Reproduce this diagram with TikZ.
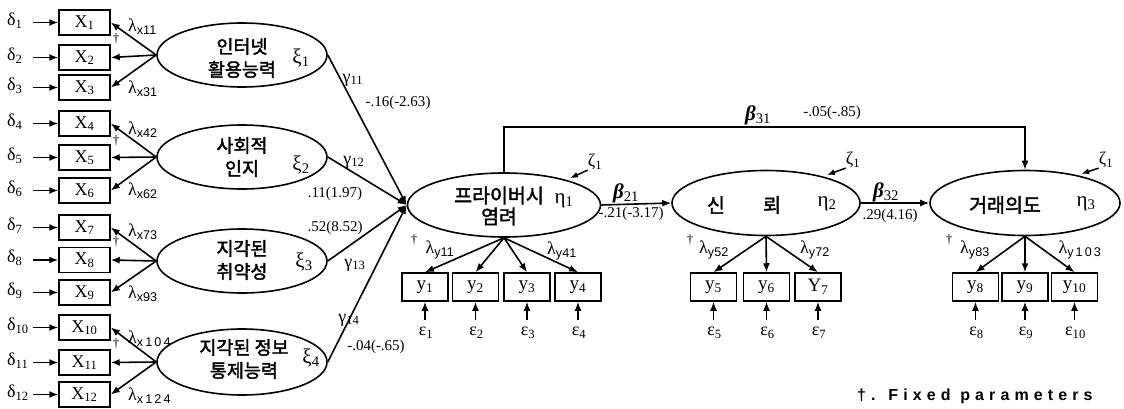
\documentclass[tikz,border=0pt]{standalone}
\usepackage{fontspec}
\setmainfont{Liberation Serif}
\setsansfont{Liberation Sans}
\newfontfamily\kr[FakeBold=2]{Noto Sans CJK KR}
\usetikzlibrary{shapes.geometric,arrows.meta}
\newcommand\sbs[1]{\textsubscript{#1}}
\newcommand\ssb[1]{\textsubscript{\sffamily #1}}
\begin{document}
\begin{tikzpicture}[x=1pt,y=-1pt,
  xbox/.style={draw,line width=1.5pt,minimum width=51pt,minimum height=25pt,inner sep=0pt,font=\fontsize{18}{18}\selectfont},
  ybox/.style={draw,line width=1.5pt,minimum width=46pt,minimum height=28pt,inner sep=0pt,font=\fontsize{19}{19}\selectfont},
  lat/.style={draw,ellipse,line width=1.6pt,inner sep=0pt},
  arr/.style={-{Latex[length=9pt,width=7pt]},line width=1.6pt},
  zarr/.style={-{Latex[length=8pt,width=6pt]},line width=1.5pt},
  glab/.style={inner sep=0pt,font=\fontsize{18}{18}\selectfont},
  big/.style={inner sep=0pt,font=\fontsize{21}{21}\selectfont},
  num/.style={inner sep=0pt,font=\fontsize{15}{15}\selectfont},
  dag/.style={inner sep=0pt,font=\fontsize{13}{13}\selectfont},
  kor/.style={align=center,inner sep=0pt,font=\kr\fontsize{18.5}{23}\selectfont},
  kor2/.style={align=center,inner sep=0pt,font=\kr\fontsize{19.5}{21}\selectfont}]
\useasboundingbox (0,0) rectangle (1124,409);

% ---------- X indicators ----------
\foreach \i/\y in {1/22.5,2/57.5,3/87.5,4/123.5,5/157.5,6/190.5,7/227.5,8/260,9/292.5,10/327.5,11/362.5,12/394.5}{
  \node[xbox] (x\i) at (84.5,\y) {X\sbs{\i}};
  \node[glab,anchor=west] (d\i) at (7,\y-2) {δ\sbs{\i}};
  \coordinate (ds\i) at (33,\y);
  \draw[arr] (ds\i) -- (x\i.west);
}

% ---------- exogenous latents ----------
\node[lat,minimum width=170pt,minimum height=64pt] (e1) at (242,55) {};
\node[lat,minimum width=170pt,minimum height=64pt] (e2) at (242,157) {};
\node[lat,minimum width=170pt,minimum height=64pt] (e3) at (242,261) {};
\node[lat,minimum width=170pt,minimum height=66pt] (e4) at (242,362) {};
\node[kor] (k1) at (242,58) {인터넷\\활용능력};
\node[kor] (k2) at (242,157) {사회적\\인지};
\node[kor] (k3) at (242,260) {지각된\\취약성};
\node[kor] (k4) at (244,359) {지각된 정보\\통제능력};
\node[big] (xi1) at (301,58) {ξ\sbs{1}};
\node[big] (xi2) at (301,165) {ξ\sbs{2}};
\node[big] (xi3) at (304,262) {ξ\sbs{3}};
\node[big] (xi4) at (311,358) {ξ\sbs{4}};

% loadings x
\draw[arr] (e1.west) -- (x1.east);
\draw[arr] (e1.west) -- (x2.east);
\draw[arr] (e1.west) -- (x3.east);
\draw[arr] (e2.west) -- (x4.east);
\draw[arr] (e2.west) -- (x5.east);
\draw[arr] (e2.west) -- (x6.east);
\draw[arr] (e3.west) -- (x7.east);
\draw[arr] (e3.west) -- (x8.east);
\draw[arr] (e3.west) -- (x9.east);
\draw[arr] (e4.west) -- (x10.east);
\draw[arr] (e4.west) -- (x11.east);
\draw[arr] (e4.west) -- (x12.east);

\node[glab,anchor=west] (lx11) at (128,27) {λ\ssb{x11}};
\node[glab,anchor=west] (lx31) at (128,89) {λ\ssb{x31}};
\node[glab,anchor=west] (lx42) at (128,130) {λ\ssb{x42}};
\node[glab,anchor=west] (lx62) at (128,191) {λ\ssb{x62}};
\node[glab,anchor=west] (lx73) at (128,232) {λ\ssb{x73}};
\node[glab,anchor=west] (lx93) at (128,294) {λ\ssb{x93}};
\node[glab,anchor=west] (lx104) at (128,339) {λ\ssb{x\,1\,0\,4}};
\node[glab,anchor=west] (lx124) at (128,396) {λ\ssb{x\,1\,2\,4}};
\node[dag] (dg1) at (116,39) {†};
\node[dag] (dg2) at (116,141) {†};
\node[dag] (dg3) at (116,242) {†};
\node[dag] (dg4) at (116,344) {†};

% ---------- endogenous latents ----------
\node[lat,minimum width=193pt,minimum height=64pt] (eta1) at (504,205) {};
\node[lat,minimum width=188pt,minimum height=65pt] (eta2) at (766,203) {};
\node[lat,minimum width=190pt,minimum height=65pt] (eta3) at (1025,203) {};
\node[kor2] (k5) at (499,206) {프라이버시\\염려};
\node[kor2] (k6a) at (716,205) {신};
\node[kor2] (k6b) at (772,205) {뢰};
\node[kor2] (k7) at (1005,205) {거래의도};
\node[big] (h1) at (564,201) {η\sbs{1}};
\node[big] (h2) at (827,204) {η\sbs{2}};
\node[big] (h3) at (1086,204) {η\sbs{3}};

% gamma paths
\draw[arr] (e1.east) -- (eta1.west);
\draw[arr] (e2.east) -- (eta1.west);
\draw[arr] (e3.east) -- (eta1.west);
\draw[arr] (e4.east) -- (eta1.west);
\node[glab] (g11) at (353,80) {γ\sbs{11}};
\node[num] (n11) at (398,103) {-.16(-2.63)};
\node[glab] (g12) at (354,162) {γ\sbs{12}};
\node[num] (n12) at (335,194) {.11(1.97)};
\node[num] (n13) at (335,228) {.52(8.52)};
\node[glab] (g13) at (355,265) {γ\sbs{13}};
\node[glab] (g14) at (349,320) {γ\sbs{14}};
\node[num] (n14) at (376,347) {-.04(-.65)};

% beta paths
\draw[arr] (eta1.east) -- (eta2.west);
\draw[arr] (eta2.east) -- (eta3.west);
\coordinate (top) at (0,127);
\draw[arr] (eta1.north) -- (eta1.north |- top) -| (eta3.north);
\node[big] (b21) at (626,193) {\textbf{\textit{β}}\sbs{21}};
\node[num] (n21) at (631,214) {-.21(-3.17)};
\node[big] (b32) at (886,192) {\textbf{\textit{β}}\sbs{32}};
\node[num] (n32) at (890,216) {.29(4.16)};
\node[big] (b31) at (758,115) {\textbf{\textit{β}}\sbs{31}};
\node[num] (n31) at (832,113) {-.05(-.85)};

% zeta
\node[glab] (z1) at (595,162) {ζ\sbs{1}};
\node[glab] (z2) at (853,160) {ζ\sbs{1}};
\node[glab] (z3) at (1106,160) {ζ\sbs{1}};
\draw[zarr,shorten >=4pt] (z1.south west) -- (eta1.22);
\draw[zarr,shorten >=4pt] (z2.south west) -- (eta2.25);
\draw[zarr,shorten >=4pt] (z3.south west) -- (eta3.28);

% ---------- Y indicators ----------
\foreach \i/\xx/\lab in {1/425/y\sbs{1},2/475.5/y\sbs{2},3/527/y\sbs{3},4/578/y\sbs{4},
  5/713.5/y\sbs{5},6/766.5/y\sbs{6},7/818/Y\sbs{7},
  8/975.5/y\sbs{8},9/1025/y\sbs{9},10/1074.5/y\sbs{10}}{
  \node[ybox] (y\i) at (\xx,287) {\lab};
  \coordinate (es\i) at (\xx,320);
  \node[glab] (ep\i) at (\xx+1,333) {ε\sbs{\i}};
  \draw[arr] (es\i) -- (y\i.south);
}
\foreach \i in {1,2,3,4}{\draw[arr] (eta1.south) -- (y\i.north);}
\foreach \i in {5,6,7}{\draw[arr] (eta2.south) -- (y\i.north);}
\foreach \i in {8,9,10}{\draw[arr] (eta3.south) -- (y\i.north);}

\node[glab] (ly11) at (440,250) {λ\ssb{y11}};
\node[glab] (ly41) at (562,251) {λ\ssb{y41}};
\node[glab] (ly52) at (714,250) {λ\ssb{y52}};
\node[glab] (ly72) at (815,250) {λ\ssb{y72}};
\node[glab] (ly83) at (975,250) {λ\ssb{y83}};
\node[glab] (ly103) at (1080,250) {λ\ssb{y\,1\,0\,3}};
\node[dag] (dg5) at (414,240) {†};
\node[dag] (dg6) at (690,240) {†};
\node[dag] (dg7) at (949,240) {†};

\node[inner sep=0pt,anchor=west,font=\sffamily\bfseries\fontsize{16}{16}\selectfont\addfontfeatures{LetterSpace=32}] (fix) at (857,396) {†. Fixed parameters};
\end{tikzpicture}
\end{document}
